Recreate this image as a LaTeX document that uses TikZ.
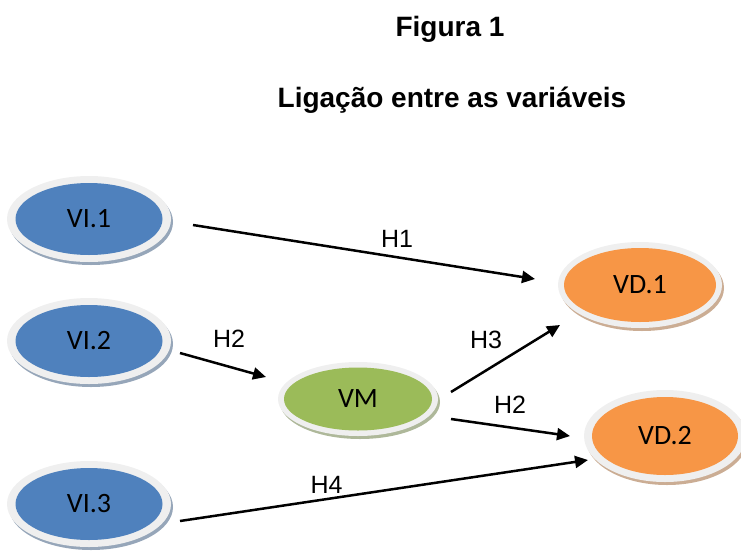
\documentclass[tikz,border=0pt]{standalone}
\usepackage{fontspec}
\setmainfont{Liberation Sans}
\newfontfamily\calibri{Carlito}
\usetikzlibrary{arrows.meta,shadows,shapes.geometric}
\definecolor{viblue}{HTML}{4F81BD}
\definecolor{vmgreen}{HTML}{9BBB59}
\definecolor{vdorange}{HTML}{F79646}
\definecolor{ringgray}{HTML}{EFEFEF}
\begin{document}
\begin{tikzpicture}[
        x=1pt, y=-1pt,
        >={Triangle[length=13pt,width=12pt]}, % arrow tips
        hyp/.style={->, line width=2.5pt}, % arrows between the variables
        hlabel/.style={font=\fontsize{25}{28}\selectfont}, % labels H1...H4
        % ellipse with light ring; #1,#2 outer size, #3 colour, #4,#5 inner radii
        var/.style n args={5}{ellipse, inner sep=0pt, minimum width=#1, minimum height=#2,
            fill=ringgray, font=\calibri\fontsize{28}{30}\selectfont,
            drop shadow={shadow xshift=2pt, shadow yshift=-3pt, fill=#3!45!gray!70, opacity=1},
            path picture={\fill[#3] (path picture bounding box.center) ellipse [x radius=#4, y radius=#5];}}
    ]
    \useasboundingbox (0,0) rectangle (741,557);

    % titles
    \node[anchor=base, font=\bfseries\fontsize{28}{30}\selectfont] (fig) at (450,36) {Figura 1};
    \node[anchor=base, font=\bfseries\fontsize{28}{30}\selectfont] (title) at (452,107) {Ligação entre as variáveis};

    % variables
    \node[var={164pt}{86pt}{viblue}{73.5pt}{36pt}] (vi1) at (89,219) {VI.1};
    \node[var={164pt}{86pt}{viblue}{73.5pt}{36pt}] (vi2) at (89,341) {VI.2};
    \node[var={164pt}{86pt}{viblue}{73.5pt}{36pt}] (vi3) at (89,504) {VI.3};
    \node[var={160pt}{74pt}{vmgreen}{74pt}{31.5pt}] (vm) at (358,399) {VM};
    \node[var={164pt}{86pt}{vdorange}{76pt}{37pt}] (vd1) at (640,285) {VD.1};
    \node[var={162pt}{92pt}{vdorange}{73pt}{39pt}] (vd2) at (665,436) {VD.2};

    % arrow ends
    \coordinate (h1a) at (193,225);
    \coordinate (h1b) at (535,279);
    \coordinate (h2a) at (180,353);
    \coordinate (h2b) at (266,377);
    \coordinate (h3a) at (451,392);
    \coordinate (h3b) at (560,325);
    \coordinate (h5a) at (451,419);
    \coordinate (h5b) at (570,436);
    \coordinate (h4a) at (180,521);
    \coordinate (h4b) at (588,460);

    \draw[hyp] (h1a) -- (h1b);
    \draw[hyp] (h2a) -- (h2b);
    \draw[hyp] (h3a) -- (h3b);
    \draw[hyp] (h5a) -- (h5b);
    \draw[hyp] (h4a) -- (h4b);

    % labels
    \node[hlabel] (l1) at (397,238.5) {H1};
    \node[hlabel] (l2) at (229,338.5) {H2};
    \node[hlabel] (l3) at (486,339.5) {H3};
    \node[hlabel] (l5) at (510,405) {H2};
    \node[hlabel] (l4) at (326.5,484.5) {H4};
\end{tikzpicture}
\end{document}
